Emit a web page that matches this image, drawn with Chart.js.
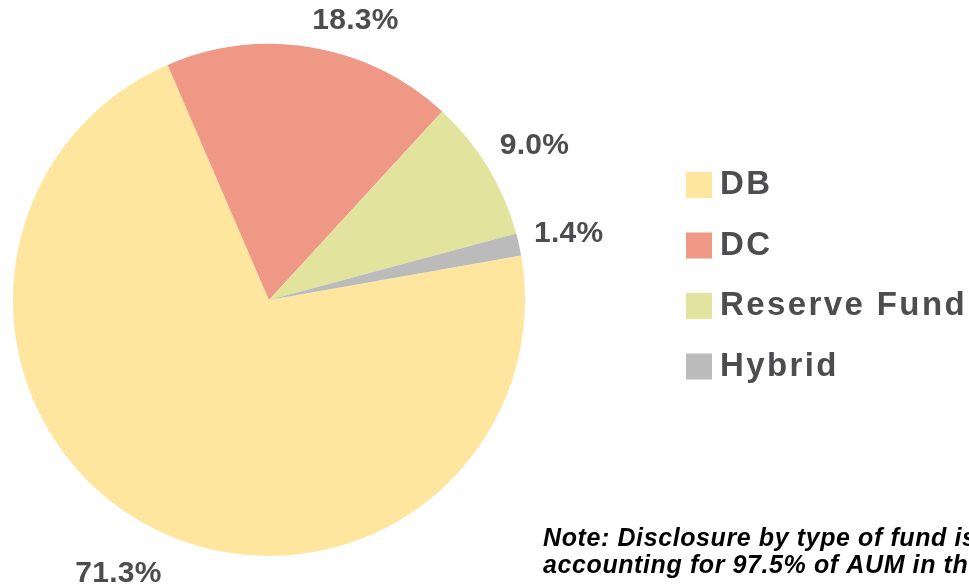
<!DOCTYPE html>
<html>
<head>
<meta charset="utf-8">
<script src="https://cdn.jsdelivr.net/npm/chart.js@4.4.0/dist/chart.umd.min.js"></script>
<style>
  html, body { margin: 0; padding: 0; background: #ffffff; }
  #wrap { width: 969px; height: 584px; position: relative; }
</style>
</head>
<body>
<div id="wrap"><canvas id="graficoFundos" width="969" height="584"></canvas></div>
<script>
// dados do gráfico
const categorias = ["DB", "DC", "Reserve Fund", "Hybrid"];
const valores = [71.3, 18.3, 9.0, 1.4];
const rotulos = ["71.3%", "18.3%", "9.0%", "1.4%"];
const cores = ["#FFE69E", "#F09886", "#E2E49E", "#BBBBBB"];
const notaLinhas = [
    "Note: Disclosure by type of fund is available for",
    "accounting for 97.5% of AUM in the sample."
];

const corTexto = "#4D4D4F";

// rótulos de percentagem fora das fatias
const pluginRotulos = {
    id: "rotulosFora",
    afterDatasetsDraw(chart) {
        const ctx = chart.ctx;
        const meta = chart.getDatasetMeta(0);
        // ajuste de ângulo / distância por fatia (o rótulo do DC fica deslocado como no original)
        const ajustes = [{ da: 0.5, d: 312 }, { da: 7.6, d: 292 }, { da: 1.1, d: 307 }, { da: 0, d: 307 }];
        ctx.save();
        ctx.font = "bold 30px 'Liberation Sans', Arial, sans-serif";
        ctx.letterSpacing = "0.3px";
        ctx.fillStyle = corTexto;
        ctx.textAlign = "center";
        ctx.textBaseline = "middle";
        meta.data.forEach((arc, i) => {
            const meio = (arc.startAngle + arc.endAngle) / 2 + ajustes[i].da * Math.PI / 180;
            const x = arc.x + Math.cos(meio) * ajustes[i].d;
            const y = arc.y + Math.sin(meio) * ajustes[i].d;
            ctx.fillText(rotulos[i], x, y);
        });
        ctx.restore();
    }
};

// legenda e nota desenhadas à mão
const pluginLegenda = {
    id: "legendaNota",
    afterDraw(chart) {
        const ctx = chart.ctx;
        ctx.save();
        ctx.textBaseline = "alphabetic";
        ctx.textAlign = "left";
        categorias.forEach((cat, i) => {
            const y0 = 172 + i * 60.5;
            ctx.fillStyle = cores[i];
            ctx.fillRect(686, y0, 26, 26);
            ctx.fillStyle = corTexto;
            ctx.font = "bold 33px 'Liberation Sans', Arial, sans-serif";
            ctx.letterSpacing = "2.4px";
            ctx.fillText(cat, 720, y0 + 22);
        });
        ctx.fillStyle = "#000000";
        ctx.font = "italic bold 25px 'Liberation Sans', Arial, sans-serif";
        ctx.letterSpacing = "0.6px";
        notaLinhas.forEach((linha, i) => {
            ctx.fillText(linha, 543, 546 + i * 27);
        });
        ctx.restore();
    }
};

const ctx = document.getElementById("graficoFundos").getContext("2d");
window.graficoFundos = new Chart(ctx, {
    type: "pie",
    data: {
        labels: categorias,
        datasets: [{
            data: valores,
            backgroundColor: cores,
            borderWidth: 0
        }]
    },
    options: {
        responsive: false,
        animation: false,
        rotation: 80,
        layout: {
            padding: { left: 13, top: 44, right: 444, bottom: 28 }
        },
        plugins: {
            legend: { display: false },
            tooltip: { enabled: false }
        }
    },
    plugins: [pluginRotulos, pluginLegenda]
});
</script>
</body>
</html>
